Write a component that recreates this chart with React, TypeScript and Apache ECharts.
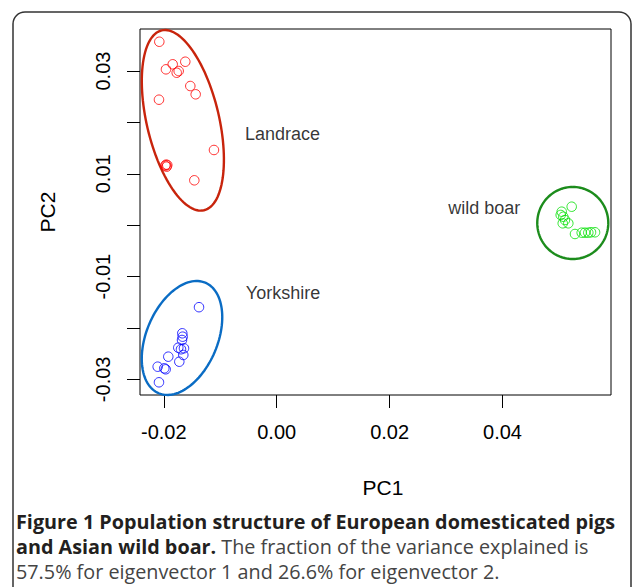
import React, { useEffect, useRef } from "react";
import * as echarts from "echarts";

// ---- data ----
const xTickValues = [-0.02, 0, 0.02, 0.04];
const yTickValues = [-0.03, -0.02, -0.01, 0, 0.01, 0.02, 0.03];
const yLabelValues = [-0.03, -0.01, 0.01, 0.03];

const landraceX = [-0.02079, -0.01961, -0.01842, -0.01619, -0.01771, -0.01736, -0.0153, -0.01435, -0.02085, -0.01111, -0.01961, -0.01938, -0.01948, -0.01973, -0.01459];
const landraceY = [0.03571, 0.03034, 0.03132, 0.03182, 0.02968, 0.03001, 0.02709, 0.02548, 0.02443, 0.01464, 0.01178, 0.01172, 0.01139, 0.01158, 0.00874];

const yorkshireX = [-0.01376, -0.01672, -0.01665, -0.01677, -0.01743, -0.01642, -0.01695, -0.01654, -0.01725, -0.0192, -0.02108, -0.01991, -0.01966, -0.02085];
const yorkshireY = [-0.01596, -0.02104, -0.0217, -0.02234, -0.02384, -0.02396, -0.02415, -0.02526, -0.02657, -0.02559, -0.02754, -0.02785, -0.02805, -0.03058];

const wildBoarX = [0.05225, 0.05048, 0.0503, 0.05076, 0.05066, 0.05165, 0.05106, 0.05283, 0.05402, 0.0546, 0.05519, 0.05567, 0.05638];
const wildBoarY = [0.0036, 0.00263, 0.00199, 0.00165, 0.00037, 0.00037, 0.00101, -0.00171, -0.00146, -0.00146, -0.00146, -0.00138, -0.00138];

// ellipse: [centerX, centerY, axis1X, axis1Y, axis2X, axis2Y] in data units
const landraceEllipse = [-0.01662, 0.02041, -0.00375, 0.0175, 0.00623, 0.00162];
const yorkshireEllipse = [-0.01677, -0.02195, 0.00413, 0.01076, 0.00581, -0.00269];
const wildBoarEllipse = [0.05244, 0.00043, 0, 0.00701, 0.00629, 0];

const groupNames = ["Landrace", "Yorkshire", "wild boar"];
const groupLabelX = [0.00103, 0.00112, 0.03675];
const groupLabelY = [0.01775, -0.0132, 0.00329];

const captionLines = [
  "Figure 1 Population structure of European domesticated pigs",
  "and Asian wild boar.",
  " The fraction of the variance explained is",
  "57.5% for eigenvector 1 and 26.6% for eigenvector 2.",
];

const zip = (xs: number[], ys: number[]) => xs.map((x, i) => [x, ys[i]]);

const ellipseSeries = (vals: number[], color: string) => ({
  type: "custom",
  clip: false,
  silent: true,
  data: [vals],
  encode: { x: 0, y: 1 },
  renderItem: (_params: any, api: any) => {
    const cx = api.value(0), cy = api.value(1);
    const ux = api.value(2), uy = api.value(3);
    const vx = api.value(4), vy = api.value(5);
    const pts: number[][] = [];
    const n = 120;
    for (let i = 0; i <= n; i++) {
      const t = (i / n) * Math.PI * 2;
      pts.push(api.coord([cx + ux * Math.cos(t) + vx * Math.sin(t), cy + uy * Math.cos(t) + vy * Math.sin(t)]));
    }
    return {
      type: "polyline",
      shape: { points: pts },
      style: { fill: "none", stroke: color, lineWidth: 2.4 },
    };
  },
});

const pointSeries = (data: number[][], color: string) => ({
  type: "scatter",
  data,
  symbol: "circle",
  symbolSize: 9.5,
  itemStyle: { color: "rgba(0,0,0,0)", borderColor: color, borderWidth: 1 },
  emphasis: { disabled: true },
});

const capFont = 19.8;

export default function App() {
  const ref = useRef<HTMLDivElement>(null);
  useEffect(() => {
    if (!ref.current) return;
    const chart = echarts.init(ref.current, null, { renderer: "svg" });
    const axisFont = { fontFamily: "Liberation Sans", fontSize: 20, color: "#000" };
    chart.setOption({
      animation: false,
      backgroundColor: "#fff",
      grid: { left: 140, top: 29, right: 22, bottom: 192, show: true, borderColor: "#000", borderWidth: 1, backgroundColor: "transparent" },
      xAxis: {
        type: "value",
        min: -0.02421,
        max: 0.05921,
        axisLine: { show: false, onZero: false },
        splitLine: { show: false },
        axisTick: { show: true, customValues: xTickValues, length: 13, lineStyle: { color: "#000", width: 1 } },
        axisLabel: { ...axisFont, lineHeight: 20, customValues: xTickValues, margin: 27, formatter: (v: number) => v.toFixed(2) },
      },
      yAxis: {
        type: "value",
        min: -0.03305,
        max: 0.03819,
        axisLine: { show: false, onZero: false },
        splitLine: { show: false },
        axisTick: { show: true, customValues: yTickValues, length: 13, lineStyle: { color: "#000", width: 1 } },
        axisLabel: { ...axisFont, lineHeight: 20, customValues: yLabelValues, rotate: 90, margin: 27, formatter: (v: number) => v.toFixed(2) },
      },
      series: [
        pointSeries(zip(landraceX, landraceY), "#ff0000"),
        pointSeries(zip(yorkshireX, yorkshireY), "#0000ff"),
        pointSeries(zip(wildBoarX, wildBoarY), "#00e000"),
        ellipseSeries(landraceEllipse, "#c8240c"),
        ellipseSeries(yorkshireEllipse, "#0a6cc4"),
        ellipseSeries(wildBoarEllipse, "#1c8c1c"),
        {
          type: "scatter",
          symbolSize: 0,
          silent: true,
          data: groupNames.map((n, i) => ({ name: n, value: [groupLabelX[i], groupLabelY[i]] })),
          label: {
            show: true,
            position: "inside",
            formatter: "{b}",
            fontFamily: "Liberation Sans",
            fontSize: 18,
            color: "#000",
          },
        },
      ],
      graphic: [
        {
          type: "rect",
          shape: { x: 13, y: 12, width: 618, height: 620, r: 12 },
          style: { fill: "none", stroke: "#333", lineWidth: 1.5 },
          silent: true,
        },
        {
          type: "text",
          x: 383,
          y: 487,
          style: { text: "PC1", fontFamily: "Liberation Sans", fontSize: 21, fill: "#000", align: "center", verticalAlign: "middle" },
        },
        {
          type: "text",
          x: 47,
          y: 212,
          rotation: Math.PI / 2,
          style: { text: "PC2", fontFamily: "Liberation Sans", fontSize: 21, fill: "#000", align: "center", verticalAlign: "middle" },
        },
        {
          type: "text",
          x: 16,
          y: 521,
          style: {
            text: "{b|" + captionLines[0] + "}",
            verticalAlign: "middle",
            rich: { b: { fontFamily: "Open Sans", fontWeight: "bold", fontSize: capFont, lineHeight: 22, fill: "#231f20" } },
          },
        },
        {
          type: "text",
          x: 16,
          y: 546,
          style: {
            text: "{b|" + captionLines[1] + "}{r|" + captionLines[2] + "}",
            verticalAlign: "middle",
            rich: {
              b: { fontFamily: "Open Sans", fontWeight: "bold", fontSize: capFont, lineHeight: 22, fill: "#231f20" },
              r: { fontFamily: "Open Sans", fontSize: capFont, lineHeight: 22, fill: "#444" },
            },
          },
        },
        {
          type: "text",
          x: 16,
          y: 571,
          style: {
            text: "{r|" + captionLines[3] + "}",
            verticalAlign: "middle",
            rich: { r: { fontFamily: "Open Sans", fontSize: capFont, lineHeight: 22, fill: "#444" } },
          },
        },
      ],
    });
    return () => chart.dispose();
  }, []);
  return <div ref={ref} style={{ position: "fixed", left: 0, top: 0, width: 633, height: 587 }} />;
}
